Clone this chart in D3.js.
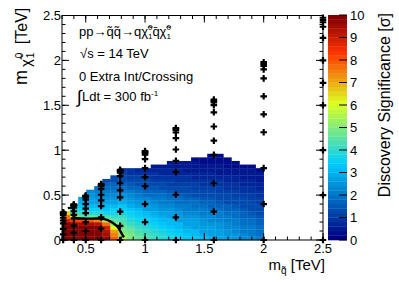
<!DOCTYPE html>
<html><head><meta charset="utf-8">
<script src="https://cdn.jsdelivr.net/npm/d3@7"></script>
<style>html,body{margin:0;padding:0;background:#fff;} svg{display:block;font-family:"Liberation Sans",Arial,Helvetica,sans-serif;}</style>
</head><body><svg id="c" width="399" height="286"></svg>
<script>
// ---------------- data ----------------
const sqMass = [0.31, 0.4, 0.5, 0.63, 0.79, 1.0, 1.26, 1.58, 2.0, 2.5];
const lspMass = [
  [0, 0.062, 0.124, 0.186, 0.217, 0.248, 0.279, 0.295, 0.301, 0.304, 0.307],
  [0, 0.08, 0.16, 0.24, 0.28, 0.32, 0.36, 0.38, 0.388, 0.392, 0.396],
  [0, 0.1, 0.2, 0.3, 0.35, 0.4, 0.45, 0.475, 0.485, 0.49, 0.495],
  [0, 0.126, 0.252, 0.378, 0.441, 0.504, 0.567, 0.599, 0.611, 0.617, 0.624],
  [0, 0.158, 0.316, 0.474, 0.553, 0.632, 0.711, 0.751, 0.766, 0.774, 0.782],
  [0, 0.2, 0.4, 0.6, 0.7, 0.8, 0.9, 0.95, 0.97, 0.98, 0.99],
  [0, 0.252, 0.504, 0.756, 0.882, 1.008, 1.134, 1.197, 1.222, 1.235, 1.247],
  [0, 0.316, 0.632, 0.948, 1.106, 1.264, 1.422, 1.501, 1.533, 1.548, 1.564],
  [0, 0.4, 0.8, 1.2, 1.4, 1.6, 1.8, 1.9, 1.94, 1.96, 1.98],
  [0, 0.5, 1.0, 1.5, 1.75, 2.0, 2.25, 2.375, 2.425, 2.45, 2.475]
];
const xBinEdges = [0.3,0.368,0.436,0.504,0.572,0.64,0.708,0.776,0.844,0.912,0.98,1.048,1.116,1.184,1.252,1.32,1.388,1.456,1.524,1.592,1.66,1.728,1.796,1.864,1.932,2.0];
const yBinEdges = [0,0.04,0.08,0.12,0.16,0.2,0.24,0.28,0.32,0.36,0.4,0.44,0.48,0.52,0.56,0.6,0.64,0.68,0.72,0.76,0.8,0.84,0.88,0.92,0.96];
// significance per x-bin, listed from the lowest y-bin upward
const significance = [
  [10,10,10,10,9.8,8.8,7.6,6.4],
  [10,10,10,10,9.6,8.3,5.4,4.3,3.8,3.4],
  [10,10,10,10,9.5,8.0,4.7,4.1,3.6,3.2,2.9,2.7],
  [10,10,10,10,9.5,7.8,4.6,3.9,3.5,3.1,2.8,2.6,2.4,2.2],
  [10,10,10,9.8,9.2,7.4,4.5,3.8,3.4,3.0,2.7,2.5,2.3,2.1,1.9],
  [9.6,9.5,9.3,8.9,7.6,5.4,4.3,3.7,3.3,3.0,2.7,2.4,2.2,2.0,1.8,1.6,1.4],
  [7.8,7.5,7.0,6.0,5.0,4.5,4.1,3.7,3.4,3.1,2.8,2.5,2.3,2.1,1.9,1.6,1.4,1.2],
  [5.6,5.0,4.8,4.6,4.4,4.2,4.0,3.7,3.4,3.2,2.9,2.6,2.4,2.1,1.9,1.6,1.4,1.2,1.0,0.9],
  [4.9,4.8,4.6,4.4,4.1,3.9,3.7,3.4,3.2,2.9,2.7,2.5,2.2,2.0,1.7,1.5,1.3,1.1,0.9,0.8],
  [4.6,4.5,4.3,4.1,3.9,3.7,3.5,3.2,3.0,2.8,2.5,2.3,2.1,1.8,1.6,1.4,1.2,1.1,0.9,0.7],
  [4.3,4.2,4.0,3.8,3.6,3.4,3.2,3.0,2.8,2.6,2.4,2.2,1.9,1.7,1.5,1.3,1.2,1.0,0.8,0.7],
  [4.1,4.0,3.8,3.6,3.5,3.3,3.1,2.9,2.7,2.5,2.3,2.1,1.8,1.6,1.5,1.3,1.1,0.9,0.8,0.7,0.5],
  [3.9,3.8,3.6,3.5,3.3,3.1,2.9,2.7,2.5,2.3,2.1,2.0,1.8,1.6,1.4,1.2,1.1,0.9,0.7,0.6,0.5],
  [3.7,3.6,3.4,3.3,3.1,3.0,2.8,2.6,2.4,2.2,2.0,1.9,1.7,1.5,1.3,1.1,1.0,0.9,0.7,0.6,0.5,0.4],
  [3.5,3.4,3.3,3.1,3.0,2.8,2.6,2.5,2.3,2.1,1.9,1.8,1.6,1.4,1.2,1.1,0.9,0.8,0.7,0.6,0.5,0.4],
  [3.3,3.2,3.1,2.9,2.8,2.6,2.5,2.3,2.1,2.0,1.8,1.7,1.5,1.3,1.2,1.0,0.9,0.8,0.6,0.5,0.4,0.4],
  [3.2,3.1,3.0,2.8,2.7,2.6,2.4,2.2,2.1,1.9,1.8,1.6,1.4,1.3,1.1,1.0,0.9,0.7,0.6,0.5,0.4,0.4,0.3],
  [3.0,2.9,2.8,2.7,2.5,2.4,2.3,2.1,2.0,1.8,1.7,1.5,1.4,1.2,1.1,0.9,0.8,0.7,0.6,0.5,0.4,0.3,0.3],
  [2.9,2.8,2.7,2.6,2.5,2.3,2.2,2.0,1.9,1.7,1.6,1.5,1.3,1.2,1.0,0.9,0.8,0.7,0.6,0.5,0.4,0.3,0.3,0.2],
  [2.8,2.7,2.6,2.5,2.4,2.2,2.1,2.0,1.8,1.7,1.5,1.4,1.3,1.1,1.0,0.9,0.8,0.6,0.5,0.4,0.4,0.3,0.3,0.2],
  [2.6,2.5,2.4,2.3,2.2,2.1,2.0,1.8,1.7,1.6,1.4,1.3,1.2,1.0,0.9,0.8,0.7,0.6,0.5,0.4,0.3,0.3,0.2],
  [2.5,2.4,2.3,2.2,2.1,2.0,1.9,1.8,1.6,1.5,1.4,1.3,1.1,1.0,0.9,0.8,0.7,0.6,0.5,0.4,0.3,0.3],
  [2.3,2.2,2.1,2.0,1.9,1.8,1.7,1.6,1.5,1.4,1.3,1.2,1.0,0.9,0.8,0.7,0.6,0.5,0.4,0.4,0.3],
  [2.2,2.1,2.0,2.0,1.9,1.8,1.7,1.5,1.4,1.3,1.2,1.1,1.0,0.9,0.8,0.7,0.6,0.5,0.4,0.4,0.3],
  [2.0,1.9,1.9,1.8,1.7,1.6,1.5,1.4,1.3,1.2,1.1,1.0,0.9,0.8,0.7,0.6,0.5,0.5,0.4,0.3]
];
// 5 sigma contour
const contourX = [0.349,0.39,0.397,0.40,0.42,0.5,0.62,0.68,0.73,0.77,0.795,0.822];
const contourY = [0.355,0.355,0.33,0.26,0.245,0.238,0.238,0.225,0.19,0.145,0.09,0.03];
const xTicks = [0.5,1,1.5,2,2.5];
const xTickLabels = ["0.5","1","1.5","2","2.5"];
const yTicks = [0,0.5,1,1.5,2,2.5];
const yTickLabels = ["0","0.5","1","1.5","2","2.5"];
const zTicks = [0,1,2,3,4,5,6,7,8,9,10];
const zTickLabels = ["0","1","2","3","4","5","6","7","8","9","10"];

// ---------------- drawing ----------------
const svg = d3.select("#c");
const x = d3.scaleLinear().domain([0.3,2.5]).range([62,323]);
const y = d3.scaleLinear().domain([0,2.5]).range([240,15.5]);
const z = d3.scaleLinear().domain([0,10]).range([240,15]);

const stops=[0,0.34,0.61,0.84,1], R=[0,0,0.87,1,0.51], G=[0,0.81,1,0.2,0], B=[0.51,1,0.12,0,0];
function pal(t){
  t=Math.max(0,Math.min(1,t));
  let k=0; while(k<stops.length-2 && t>stops[k+1]) k++;
  const f=(t-stops[k])/(stops[k+1]-stops[k]);
  const c=a=>Math.round(255*(a[k]+(a[k+1]-a[k])*f));
  return `rgb(${c(R)},${c(G)},${c(B)})`;
}
const nCont=50;
function colorFor(v){
  let k=Math.floor(v/10*nCont); k=Math.max(0,Math.min(nCont-1,k));
  return pal(k/(nCont-1));
}

// heat cells
const cells=[];
significance.forEach((col,i)=>col.forEach((v,j)=>{ if(v!=null) cells.push({x0:xBinEdges[i],x1:xBinEdges[i+1],y0:yBinEdges[j],y1:yBinEdges[j+1],v}); }));
svg.append("g").selectAll("rect").data(cells).join("rect")
  .attr("x",d=>x(d.x0)).attr("y",d=>y(d.y1))
  .attr("width",d=>x(d.x1)-x(d.x0)+0.3).attr("height",d=>y(d.y0)-y(d.y1)+0.3)
  .attr("fill",d=>colorFor(d.v));

// contour
const cpts = contourX.map((v,i)=>[v,contourY[i]]);
svg.append("path").attr("d",d3.line().x(d=>x(d[0])).y(d=>y(d[1])).curve(d3.curveCatmullRom.alpha(0.5))(cpts))
  .attr("fill","none").attr("stroke","#000").attr("stroke-width",2.4);

// markers
const pts=[];
sqMass.forEach((mq,i)=>lspMass[i].forEach(ml=>pts.push([mq,ml])));
svg.append("g").selectAll("path").data(pts).join("path")
  .attr("transform",d=>`translate(${x(d[0])},${y(d[1])})`)
  .attr("d",d3.symbol(d3.symbolCross,24)).attr("fill","#000");

// frame and ticks
const g=svg.append("g").attr("stroke","#000").attr("stroke-width",1).attr("fill","none");
g.append("rect").attr("x",62).attr("y",15.5).attr("width",261).attr("height",224.5);
const xMinor=d3.range(3,26).map(k=>k/10), yMinor=d3.range(0,26).map(k=>k/10);
function tk(vals,len,isX){
  vals.forEach(v=>{
    if(isX){ const px=x(v);
      g.append("line").attr("x1",px).attr("x2",px).attr("y1",240).attr("y2",240-len);
      g.append("line").attr("x1",px).attr("x2",px).attr("y1",15.5).attr("y2",15.5+len);
    } else { const py=y(v);
      g.append("line").attr("y1",py).attr("y2",py).attr("x1",62).attr("x2",62+len);
      g.append("line").attr("y1",py).attr("y2",py).attr("x1",323).attr("x2",323-len);
    }
  });
}
tk(xMinor,3.5,true); tk(xTicks,7,true);
tk(yMinor,3.5,false); tk(yTicks,7,false);

// tick labels
svg.append("g").selectAll("text").data(xTicks).join("text")
  .attr("x",d=>x(d)).attr("y",253).attr("text-anchor","middle").attr("font-size",13)
  .text((d,i)=>xTickLabels[i]);
svg.append("g").selectAll("text").data(yTicks).join("text")
  .attr("x",61).attr("y",d=>y(d)+4.7).attr("text-anchor","end").attr("font-size",13)
  .text((d,i)=>yTickLabels[i]);

// colour bar
const bands=d3.range(nCont);
svg.append("g").selectAll("rect").data(bands).join("rect")
  .attr("x",328).attr("width",19)
  .attr("y",k=>z((k+1)*10/nCont)).attr("height",k=>z(k*10/nCont)-z((k+1)*10/nCont)+0.3)
  .attr("fill",k=>pal(k/(nCont-1)));
const gz=svg.append("g");
zTicks.forEach(v=>gz.append("line").attr("x1",339).attr("x2",347).attr("y1",z(v)).attr("y2",z(v)).attr("stroke","#000"));
svg.append("g").selectAll("text").data(zTicks).join("text")
  .attr("x",350).attr("y",d=>z(d)+4.7).attr("font-size",13).text((d,i)=>zTickLabels[i]);

// axis titles
const xt=svg.append("text").attr("x",325).attr("y",270).attr("text-anchor","end").attr("font-size",15);
xt.append("tspan").text("m");
xt.append("tspan").attr("font-size",10).attr("dy",4).text("q\u0303");
xt.append("tspan").attr("dy",-4).text(" [TeV]");

const yt=svg.append("text").attr("transform","translate(27,85) rotate(-90)").attr("font-size",18);
yt.append("tspan").text("m");
yt.append("tspan").attr("font-size",15).attr("dx",3).attr("dy",4).text("\u03C7\u0303");
yt.append("tspan").attr("font-size",10).attr("dx",1).attr("dy",3).text("1");
yt.append("tspan").attr("font-size",10).attr("dx",-5.6).attr("dy",-11).text("0");
yt.append("tspan").attr("font-size",16).attr("dx",4).attr("dy",4).text(" [TeV]");

svg.append("text").attr("transform","translate(390,13) rotate(-90)").attr("text-anchor","end")
  .attr("font-size",16).text("Discovery Significance [\u03C3]");

// labels in the frame
const l1=svg.append("text").attr("x",79).attr("y",36).attr("font-size",13);
l1.append("tspan").text("pp\u2192q\u0303q\u0303\u2192q\u03C7\u0303");
l1.append("tspan").attr("font-size",8).attr("dy",3).text("1");
l1.append("tspan").attr("font-size",8).attr("dx",-4.5).attr("dy",-9).text("0");
l1.append("tspan").attr("dy",6).text("q\u0304\u03C7\u0303");
l1.append("tspan").attr("font-size",8).attr("dy",3).text("1");
l1.append("tspan").attr("font-size",8).attr("dx",-4.5).attr("dy",-9).text("0");
svg.append("text").attr("x",80).attr("y",58).attr("font-size",13).text("\u221As = 14 TeV");
svg.append("text").attr("x",79).attr("y",81).attr("font-size",13).text("0 Extra Int/Crossing");
const l4=svg.append("text").attr("x",77).attr("y",101).attr("font-size",13);
l4.append("tspan").attr("font-size",18).attr("dy",2).text("\u222B");
l4.append("tspan").attr("dy",-2).text("Ldt = 300 fb");
l4.append("tspan").attr("font-size",8).attr("dy",-5).text("-1");
</script></body></html>
